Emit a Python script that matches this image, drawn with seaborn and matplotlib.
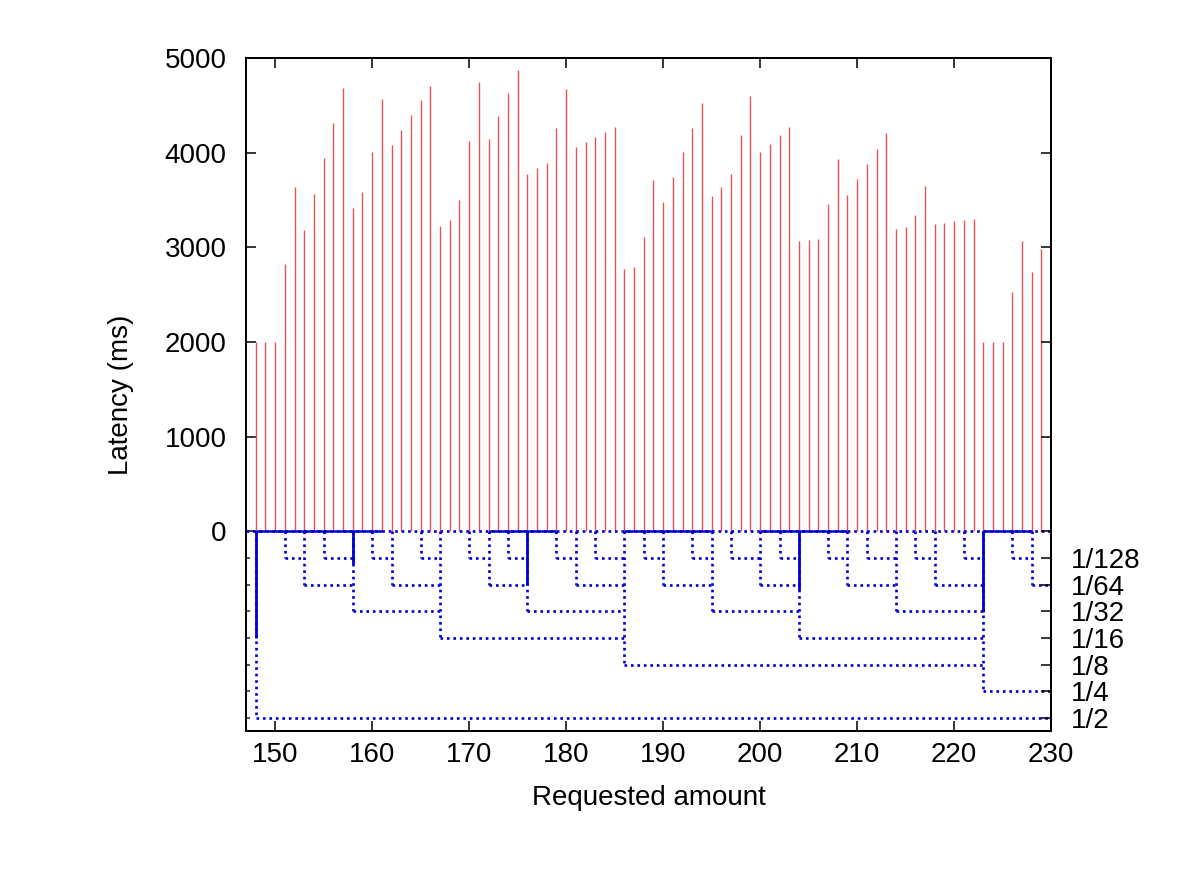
import numpy as np
import matplotlib
matplotlib.use("Agg")
import matplotlib.pyplot as plt
import seaborn as sns

# ---------------- data ----------------
latency_x = list(range(148, 230))
latency_ms = [2000, 2000, 2000, 2820, 3637, 3180, 3560, 3940, 4317, 4683,
              3419, 3588, 4003, 4563, 4080, 4239, 4397, 4552, 4703, 3225,
              3285, 3496, 4127, 4746, 4144, 4387, 4630, 4869, 3778, 3834,
              3887, 4260, 4672, 4060, 4116, 4169, 4222, 4274, 2775, 2792,
              3106, 3715, 3475, 3742, 4003, 4264, 4521, 3542, 3637, 3771,
              4186, 4598, 4003, 4091, 4183, 4271, 3063, 3074, 3092, 3454,
              3929, 3552, 3718, 3884, 4042, 4204, 3197, 3211, 3338, 3644,
              3250, 3261, 3275, 3285, 3299, 2000, 2000, 2000, 2532, 3063,
              2739, 2979]

# tree of denominations (x position, level index)
node_x = [148, 151, 153, 155, 158, 160, 162, 165, 167, 170, 172, 174, 176,
          179, 181, 183, 186, 188, 190, 193, 195, 197, 200, 202, 204, 207,
          209, 211, 214, 216, 218, 221, 223, 226, 228, 230]
node_level = [7, 1, 2, 1, 3, 1, 2, 1, 4, 1, 2, 1, 3, 1, 2, 1, 5, 1, 2, 1, 3,
              1, 2, 1, 4, 1, 2, 1, 3, 1, 2, 1, 6, 1, 2, 1]
level_labels = ["1/128", "1/64", "1/32", "1/16", "1/8", "1/4", "1/2"]
level_step = 282  # vertical spacing of the levels (data units)

# solid impulses (x, depth)
solid_x = [148, 158, 176, 204, 223]
solid_depth = [-1129, -342, -572, -622, -851]

# solid stretches on the zero line (start, end)
solid_zero_start = [148, 172, 186, 200, 223]
solid_zero_end = [161, 179, 195, 209, 228]

x_ticks = [150, 160, 170, 180, 190, 200, 210, 220, 230]
y_ticks = [0, 1000, 2000, 3000, 4000, 5000]

# ---------------- style ----------------
sns.set_theme(style="ticks")
plt.rcParams['font.family'] = ['Liberation Sans', 'DejaVu Sans']

fig = plt.figure(figsize=(12, 8.72), dpi=100)
ax = fig.add_axes([0.205, 0.1617, 0.671, 0.7718])

red = '#e85454'
blue = '#0000d0'
dot = (0, (1, 1.45))
dlw = 1.9

# red impulses
ax.vlines(latency_x, 0, latency_ms, colors=red, linewidth=1.0, zorder=2)

# dotted tree
xmax = 231
ax.plot([147, 230], [0, 0], color=blue, lw=dlw, ls=dot, dash_capstyle='butt', zorder=3)
for i, (x, lv) in enumerate(zip(node_x, node_level)):
    y = -lv * level_step
    parent = xmax
    for x2, lv2 in zip(node_x[i + 1:], node_level[i + 1:]):
        if lv2 > lv:
            parent = x2
            break
    ax.plot([x, x], [0, y], color=blue, lw=dlw, ls=dot, dash_capstyle='butt', zorder=3)
    ax.plot([x, parent], [y, y], color=blue, lw=dlw, ls=dot, dash_capstyle='butt', zorder=3)

# solid parts
ax.vlines(solid_x, 0, solid_depth, colors=blue, linewidth=2.0, zorder=4)
ax.hlines([0] * len(solid_zero_start), solid_zero_start, solid_zero_end,
          colors=blue, linewidth=1.8, zorder=4)

ax.set_xlim(147, 230)
ax.set_ylim(-2111, 5000)
ax.set_xticks(x_ticks)
ax.set_yticks(y_ticks)
level_vals = [-k * level_step for k in range(1, 8)]
ax.set_yticks(level_vals, minor=True)
ax.tick_params(axis='both', which='major', direction='in', length=7, width=1.1,
               labelsize=20, top=True, right=False, color='black', labelcolor='black')
ax.tick_params(axis='x', pad=8)
ax.tick_params(axis='y', pad=14)
ax.tick_params(axis='y', which='minor', direction='in', length=3, width=1.1, left=True)
ax.tick_params(axis='x', which='minor', bottom=False, top=False)

ax2 = ax.twinx()
ax2.set_ylim(ax.get_ylim())
ax2.set_yticks(y_ticks + level_vals)
ax2.set_yticklabels([''] * len(y_ticks) + level_labels)
ax2.tick_params(axis='y', direction='in', length=7, width=1.1, labelsize=20, pad=14,
                color='black', labelcolor='black')

for a in (ax, ax2):
    for s in a.spines.values():
        s.set_linewidth(1.4)
        s.set_color('black')
        s.set_visible(True)

ax.set_xlabel('Requested amount', fontsize=20, labelpad=12, color='black')
ax.set_ylabel('Latency (ms)', fontsize=20, labelpad=22, color='black')

fig.savefig('out.png', dpi=100, facecolor='white')
